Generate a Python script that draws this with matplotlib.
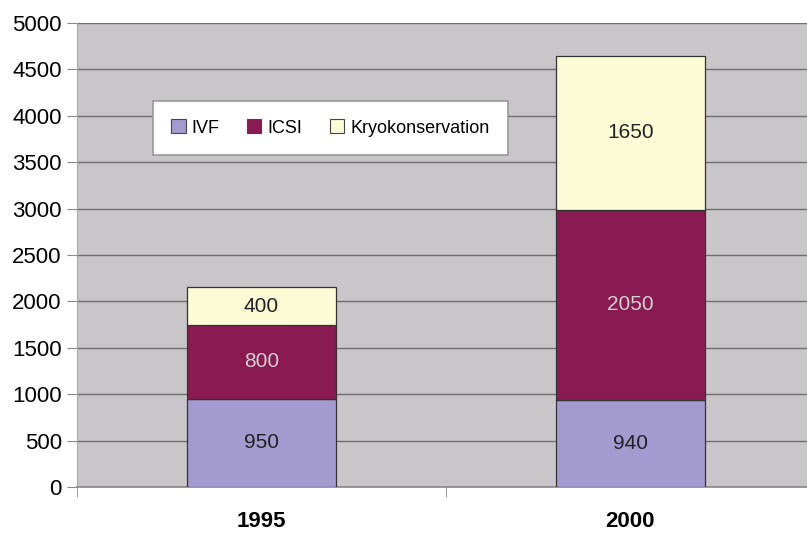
import matplotlib
matplotlib.use("Agg")
import matplotlib.pyplot as plt
from matplotlib.patches import Patch

plt.rcParams["font.family"] = ["Liberation Sans", "DejaVu Sans"]

# --- data ---------------------------------------------------------------
years = ["1995", "2000"]
ivf = [950, 940]
icsi = [800, 2050]
kryo = [400, 1650]
series_names = ["IVF", "ICSI", "Kryokonservation"]
y_ticks = list(range(0, 5001, 500))

# --- style ---------------------------------------------------------------
COLORS = ["#a39bcf", "#8a1a52", "#fbfbd6"]
LABEL_COLORS = ["#222222", "#d0d0d0", "#222222"]
BG = "#c8c6c8"
GRID = "#6e6e6e"

fig = plt.figure(figsize=(8.07, 5.36), dpi=100)
# plot area runs past the right edge of the figure, as in the reference
ax = fig.add_axes([77 / 807, 1 - 487 / 536, 738 / 807, 464 / 536])
ax.set_facecolor(BG)

x = list(range(len(years)))
bottom = [0, 0]
for vals, col, lcol, name in zip([ivf, icsi, kryo], COLORS, LABEL_COLORS, series_names):
    bars = ax.bar(x, vals, width=0.405, bottom=bottom, color=col,
                  edgecolor="#333333", linewidth=0.9, zorder=3, label=name)
    ax.bar_label(bars, labels=[str(v) for v in vals], label_type="center",
                 fontsize=15, color=lcol)
    bottom = [b + v for b, v in zip(bottom, vals)]

ax.set_xlim(-0.5, 1.5)
ax.set_ylim(0, 5000)
ax.set_yticks(y_ticks)
ax.tick_params(axis="y", labelsize=16, length=7, color="#888888", pad=4)
ax.yaxis.grid(True, color=GRID, linewidth=1.0, zorder=0)

ax.set_xticks(x)
ax.set_xticklabels(years, fontsize=16, fontweight="bold")
ax.tick_params(axis="x", length=0, pad=17)
ax.set_xticks([-0.5, 0.5, 1.5], minor=True)
ax.tick_params(axis="x", which="minor", length=7, color="#888888")

for side in ["top", "right"]:
    ax.spines[side].set_visible(False)
ax.spines["left"].set_color("#a8a8a8")
ax.spines["bottom"].set_color("#888888")
ax.spines["bottom"].set_linewidth(1.2)

handles = [Patch(facecolor=c, edgecolor="#444444", linewidth=0.8) for c in COLORS]
leg = fig.legend(handles, series_names, ncol=3, loc="center left",
                 bbox_to_anchor=(153 / 807, 1 - 128 / 536), fontsize=13,
                 frameon=True, fancybox=False, handlelength=0.8, handleheight=0.8,
                 handletextpad=0.35, columnspacing=1.5, borderpad=1.0,
                 borderaxespad=0)
leg.get_frame().set_edgecolor("#999999")
leg.get_frame().set_linewidth(1.2)
leg.get_frame().set_facecolor("white")
leg.get_frame().set_alpha(1)

fig.savefig("out.png", dpi=100)
